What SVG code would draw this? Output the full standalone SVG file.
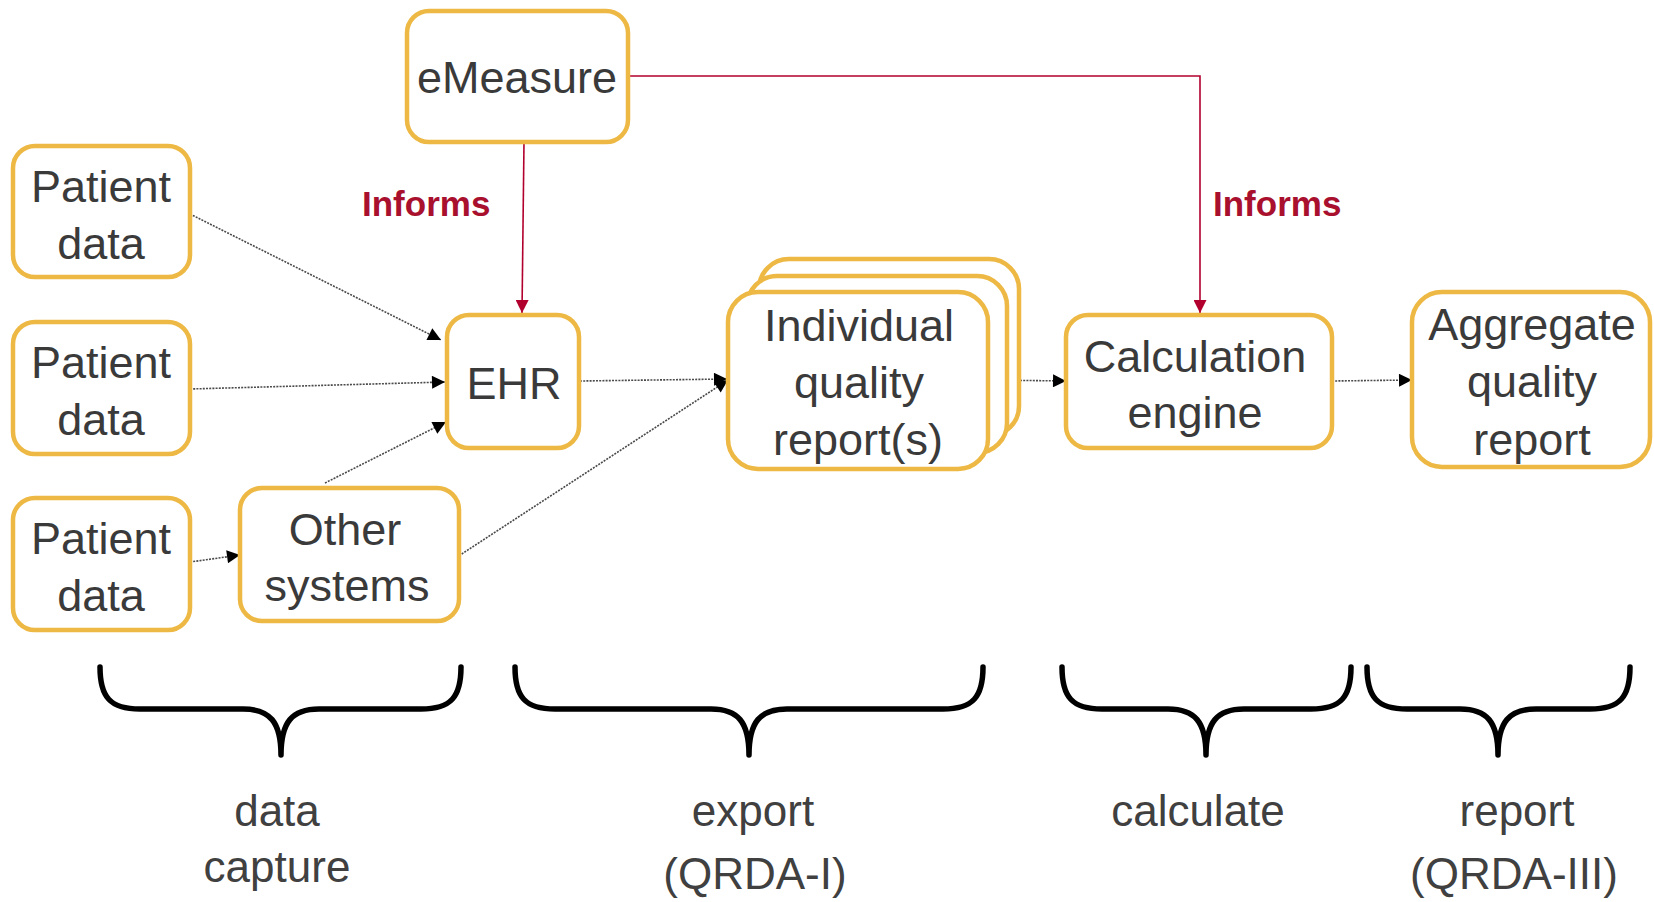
<svg xmlns="http://www.w3.org/2000/svg" width="1654" height="902" viewBox="0 0 1654 902">
  <style>
    .box { fill: #ffffff; stroke: #EDB843; stroke-width: 4.5; }
    .lbl { font-family: "Liberation Sans", Arial, sans-serif; font-size: 45px; fill: #3a3a3a; text-anchor: middle; }
    .phase { font-family: "Liberation Sans", Arial, sans-serif; font-size: 44px; fill: #404040; text-anchor: middle; }
    .inf { font-family: "Liberation Sans", Arial, sans-serif; font-size: 35px; font-weight: bold; fill: #A8102E; }
    .flow { fill: none; stroke: #4a4a4a; stroke-width: 1.6; stroke-dasharray: 2 1.2; marker-end: url(#arrowBlack); }
    .red { fill: none; stroke: #B2002E; stroke-width: 1.6; }
    .brace { fill: none; stroke: #000000; stroke-width: 5.5; stroke-linecap: round; stroke-linejoin: round; }
  </style>
  <defs>
    <marker id="arrowBlack" viewBox="0 0 10 10" refX="10" refY="5" markerWidth="15" markerHeight="13" markerUnits="userSpaceOnUse" orient="auto">
      <path d="M0,0 L10,5 L0,10 z" fill="#000000"/>
    </marker>
    <marker id="arrowRed" viewBox="0 0 10 10" refX="10" refY="5" markerWidth="15" markerHeight="13" markerUnits="userSpaceOnUse" orient="auto">
      <path d="M0,0 L10,5 L0,10 z" fill="#B2002E"/>
    </marker>
  </defs>

  <rect width="1654" height="902" fill="#ffffff"/>

  <!-- connectors -->
  <g id="connectors">
    <path class="red" d="M628,76 L1200,76 L1200,313" marker-end="url(#arrowRed)"/>
    <path class="red" d="M524,142 L522,313" marker-end="url(#arrowRed)"/>
    <path class="flow" d="M190,214 L441,340"/>
    <path class="flow" d="M190,389 L445,382"/>
    <path class="flow" d="M325,483 L446,422"/>
    <path class="flow" d="M190,562 L240,555"/>
    <path class="flow" d="M451,561 L728,380"/>
    <path class="flow" d="M580,381 L727,379"/>
    <path class="flow" d="M988,380 L1066,381"/>
    <path class="flow" d="M1332,381 L1412,380"/>
    <text class="inf" x="362" y="216">Informs</text>
    <text class="inf" x="1213" y="216">Informs</text>
  </g>

  <g id="emeasure">
    <rect class="box" x="407" y="11" width="221" height="131" rx="22"/>
    <text class="lbl" x="517" y="93">eMeasure</text>
  </g>

  <g id="patient-data-1">
    <rect class="box" x="13" y="146" width="177" height="131" rx="22"/>
    <text class="lbl" x="101" y="202">Patient</text>
    <text class="lbl" x="101" y="259">data</text>
  </g>

  <g id="patient-data-2">
    <rect class="box" x="13" y="322" width="177" height="132" rx="22"/>
    <text class="lbl" x="101" y="378">Patient</text>
    <text class="lbl" x="101" y="435">data</text>
  </g>

  <g id="patient-data-3">
    <rect class="box" x="13" y="498" width="177" height="132" rx="22"/>
    <text class="lbl" x="101" y="554">Patient</text>
    <text class="lbl" x="101" y="611">data</text>
  </g>

  <g id="other-systems">
    <rect class="box" x="240" y="488" width="219" height="133" rx="22"/>
    <text class="lbl" x="345" y="545">Other</text>
    <text class="lbl" x="347" y="601">systems</text>
  </g>

  <g id="ehr">
    <rect class="box" x="447" y="315" width="132" height="133" rx="22"/>
    <text class="lbl" x="514" y="399">EHR</text>
  </g>

  <g id="individual-reports">
    <rect class="box" x="759" y="259" width="260" height="177" rx="30"/>
    <rect class="box" x="747" y="276" width="260" height="177" rx="30"/>
    <rect class="box" x="728" y="292" width="260" height="177" rx="30"/>
    <text class="lbl" x="859" y="341">Individual</text>
    <text class="lbl" x="859" y="398">quality</text>
    <text class="lbl" x="858" y="455">report(s)</text>
  </g>

  <g id="calculation-engine">
    <rect class="box" x="1066" y="315" width="266" height="133" rx="22"/>
    <text class="lbl" x="1195" y="372">Calculation</text>
    <text class="lbl" x="1195" y="428">engine</text>
  </g>

  <g id="aggregate-report">
    <rect class="box" x="1412" y="292" width="238" height="175" rx="30"/>
    <text class="lbl" x="1532" y="340">Aggregate</text>
    <text class="lbl" x="1532" y="397">quality</text>
    <text class="lbl" x="1532" y="455">report</text>
  </g>

  <!-- phase braces and captions -->
  <g id="phase-data-capture">
    <path class="brace" d="M100,667 C100,697 110,709 140,709 L243,709 C270,709 281,722 281,755 C281,722 292,709 319,709 L421,709 C451,709 461,697 461,667"/>
    <text class="phase" x="277" y="826">data</text>
    <text class="phase" x="277" y="882">capture</text>
  </g>

  <g id="phase-export">
    <path class="brace" d="M515,667 C515,697 525,709 555,709 L711,709 C738,709 749,722 749,755 C749,722 760,709 787,709 L943,709 C973,709 983,697 983,667"/>
    <text class="phase" x="753" y="826">export</text>
    <text class="phase" x="755" y="889">(QRDA-I)</text>
  </g>

  <g id="phase-calculate">
    <path class="brace" d="M1062,667 C1062,697 1072,709 1102,709 L1168,709 C1195,709 1206,722 1206,755 C1206,722 1217,709 1244,709 L1311,709 C1341,709 1351,697 1351,667"/>
    <text class="phase" x="1198" y="826">calculate</text>
  </g>

  <g id="phase-report">
    <path class="brace" d="M1367,667 C1367,697 1377,709 1407,709 L1460,709 C1487,709 1498,722 1498,755 C1498,722 1509,709 1536,709 L1590,709 C1620,709 1630,697 1630,667"/>
    <text class="phase" x="1517" y="826">report</text>
    <text class="phase" x="1514" y="889">(QRDA-III)</text>
  </g>
</svg>
